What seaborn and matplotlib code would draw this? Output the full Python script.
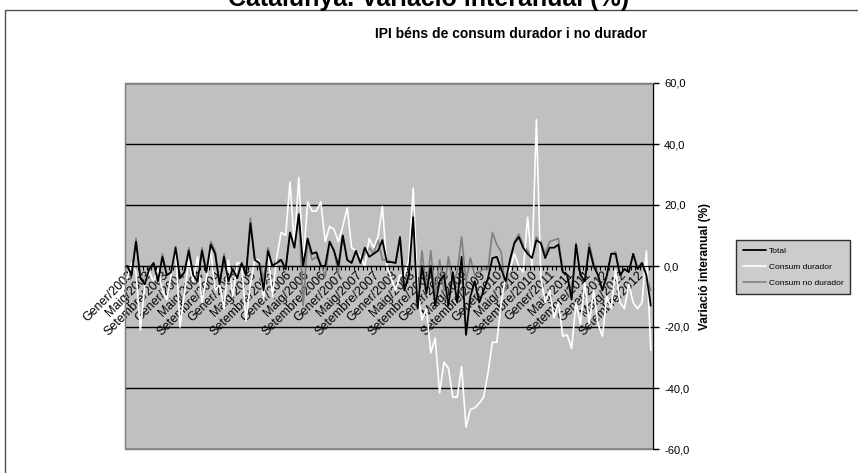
import numpy as np
import pandas as pd
import matplotlib
matplotlib.use('Agg')
import matplotlib.pyplot as plt
import seaborn as sns
from matplotlib.patches import Rectangle

# monthly series, Gener/2003 .. Desembre/2012
years = list(range(2003, 2013))
label_months = ['Gener', 'Maig', 'Setembre']

total = [
    0, -3, 8, -4, -6, -1, 1, -5, 3, -3, -2, 6,
    -4, -2, 5, -3, -5, 5, -2, 7, 4, -6, 3, -5,
    -1, -4, 1, -3, 14, 2, 1, -8, 5, 0, 1, 2,
    -1, 11, 6, 17, 0, 9, 4, 4.5, 0, 0, 8, 5,
    0, 10, 2, 1, 5, 1, 6, 3, 4, 5, 8.5, 1.3,
    1.3, 1, 9.5, -8, -3, 16, -14, 0, -9, 0, -13, -5,
    -3, -13, -2, -12, 3, -22.6, -10, -5, -12, -8, -4, 2.6,
    3, -1, -5, 2, 7.5, 9.5, 6, 4, 2.6, 8.5, 7.5, 2.6,
    6, 6, 7, -2, -3, -11, 7, -3, -5, 6, 0, -3,
    -8, -3, 4, 4, -3, -1, -2, 4, -1, 1, -3, -13]

durador = [
    -4, 1, -2, -21, -6, -2, -5, -1, -8, -11, -3, 6,
    -20, -9, 2, -5, 3, -12, -4, 5, -8, -6, -14, 2,
    -10, 1, 1, -18, -6, 2, 2, -11, 5, -10, 3, 11,
    10, 27.5, 7, 29, 1, 21, 18, 18, 21, 8, 13, 12,
    8, 13, 19, 6, 5, 3, 0, 9, 6, 9.5, 19.5, 0,
    -4, -8, -3, -3, 2, 25.6, -8, -17.7, -14, -28.5, -23.6, -41.6,
    -31.5, -33.5, -43, -43, -33, -52.8, -47, -46.5, -45, -43, -35, -25,
    -25, -12, -3.6, -1, 4, 0, -2, 16, 0, 48, -3.6, -12,
    -8, -17, -12, -23, -22.6, -27, -12, -19, -5.5, -19, -8, -19,
    -23, -10, -14, -1.3, -12, -14, -6, -12, -14, -12, 5, -27.6]

no_durador = [
    0, -3, 9, -4, -6, -1, 1, -5, 4, -3, -2, 6.5,
    -4, -2, 6, -3, -5, 6, -2, 8, 5, -6, 4, -5,
    -1, -4, 1, -3, 15.7, 2, 2, -4.6, 6, 0, 2, 2,
    -1.3, 11, 6, 17, -13, 8.5, 2, 3, 1, -3.6, 8, 5,
    -2.4, 10, 2, 1, 5, 1, 4, 6, 4, 8.5, 2, 2,
    1.3, 1, 9.5, -8, -2, 18, -12, 5, -8, 5, -10, 2,
    -8, 3, -6, -2, 9.5, -5, 2.6, -3, -2, -1, -1, 11,
    7, 4.6, -8, 2, 8, 10.5, 7, 5, 3, 9.5, 8, 4,
    8, 8.5, 9, -2, -3, -9, 7.5, -3, -5, 7.5, 1, -3,
    -8, -4, 4, 4.6, -3, -1, -2, 4, -1, 1, -3, -8]

tick_labels = [f'{m}/{y}' for y in years for m in label_months]

df = pd.DataFrame({'mes': np.arange(len(total)), 'Total': total,
                   'Consum durador': durador, 'Consum no durador': no_durador})

sns.set_style('white')
plt.rcParams['font.family'] = ['Liberation Sans', 'DejaVu Sans']
plt.rcParams['text.color'] = 'black'
plt.rcParams['axes.labelcolor'] = 'black'
plt.rcParams['xtick.color'] = 'black'
plt.rcParams['ytick.color'] = 'black'

fig = plt.figure(figsize=(8.58, 4.73), dpi=100)
ax = fig.add_axes([125/858, 24/473, 528/858, 366/473])
ax.set_facecolor('#C0C0C0')

# draw order: gray under white under black, legend keeps Total first
sns.lineplot(data=df, x='mes', y='Total', color='black', lw=1.3, label='Total', ax=ax, zorder=5)
sns.lineplot(data=df, x='mes', y='Consum durador', color='white', lw=1.2, label='Consum durador', ax=ax, zorder=4)
sns.lineplot(data=df, x='mes', y='Consum no durador', color='#808080', lw=1.2, label='Consum no durador', ax=ax, zorder=3)

ax.set_xlim(-0.5, 119.5)
ax.set_ylim(-60, 60)
ax.set_yticks(np.arange(-60, 61, 20))
ax.set_yticklabels([f'{v:.1f}'.replace('.', ',') for v in np.arange(-60, 61, 20)], fontsize=8)
ax.yaxis.tick_right()
ax.yaxis.set_label_position('right')
ax.tick_params(axis='y', which='major', direction='out', length=4, width=1, color='black', pad=4, right=True, left=False)
ax.grid(axis='y', color='black', lw=1, zorder=1)
ax.set_axisbelow(True)
ax.set_ylabel('Variació interanual (%)', fontsize=8.5, fontweight='bold', labelpad=7)
ax.set_xlabel('')

# category axis crossing at zero
ax.spines['bottom'].set_position(('data', 0))
ax.spines['bottom'].set_color('black')
ax.spines['bottom'].set_zorder(6)
ax.spines['right'].set_color('black')
ax.spines['left'].set_color('#808080')
ax.spines['top'].set_color('#808080')
ax.add_patch(Rectangle((0, 0), 1, 1, transform=ax.transAxes, fill=False,
                       edgecolor='#808080', lw=1, clip_on=False, zorder=0.5))

ax.set_xticks(np.arange(-0.5, 120, 1))
ax.set_xticklabels([])
ax.tick_params(axis='x', which='major', direction='out', length=3, width=0.8, color='black', bottom=True)
ax.set_xticks(np.arange(0, 120, 4), minor=True)
ax.set_xticklabels(tick_labels, minor=True, rotation=45, ha='right', rotation_mode='anchor', fontsize=9)
ax.tick_params(axis='x', which='minor', length=0, pad=2)
for t in ax.get_xticklabels(minor=True):
    t.set_zorder(7)

ax.get_legend().remove()
handles, labels = ax.get_legend_handles_labels()
leg = fig.legend(handles, labels, loc='center left', bbox_to_anchor=(732/858, 1 - 267/473),
                 fontsize=6, frameon=True, fancybox=False, edgecolor='black',
                 handlelength=2.8, labelspacing=1.0, borderpad=0.8, handletextpad=0.3)
leg.get_frame().set_facecolor('#C0C0C0')
leg.get_frame().set_linewidth(1)

fig.text(0.5, 1 - 6/473, 'Catalunya. Variació interanual (%)', ha='center', va='baseline',
         fontsize=18, fontweight='bold')
fig.text(511/858, 1 - 34/473, 'IPI béns de consum durador i no durador', ha='center', va='center',
         fontsize=10, fontweight='bold')
fig.add_artist(Rectangle((5/858, -0.1), 1.0, 1.1 - 10/473, transform=fig.transFigure,
                         fill=False, edgecolor='#505050', lw=1))

fig.savefig('out.png', dpi=100)
